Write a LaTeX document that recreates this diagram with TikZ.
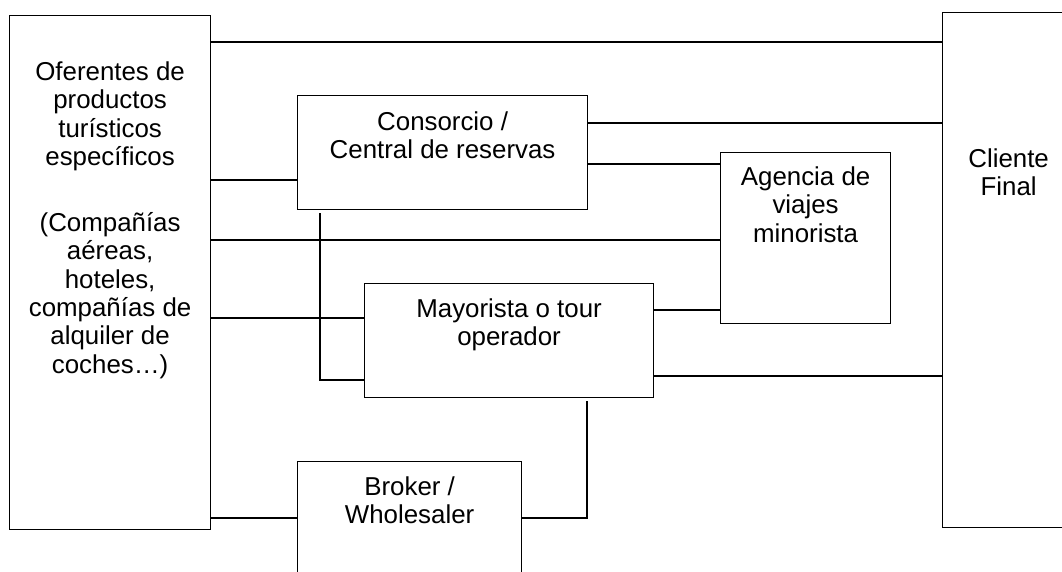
\documentclass[tikz,border=0pt]{standalone}
\usepackage{fontspec}
\setmainfont{Liberation Sans}
\usetikzlibrary{calc}
% box body: width, height, first baseline offset, text (top aligned, centred)
\newcommand{\panel}[4]{\parbox[c][#2][t]{#1}{\centering\rule{0pt}{#3}#4}}

\begin{document}
\begin{tikzpicture}[x=0.75pt,y=-0.75pt,
  box/.style={draw, line width=0.9pt, inner sep=0pt, anchor=north west,
              font=\fontsize{19.4pt}{21.2pt}\selectfont},
  link/.style={line width=0.9pt}]
\useasboundingbox (0,0) rectangle (1062,571);
\clip (0,0) rectangle (1062,571);

% actors
\node[box] (ofer) at (9,15) {\panel{150.75pt}{385.5pt}{48.75pt}{Oferentes de\\productos\\turísticos\\específicos\\[28.5pt](Compañías\\aéreas,\\hoteles,\\compañías de\\alquiler de\\coches…)}};
\node[box] (cons) at (297,95) {\panel{217.5pt}{85.5pt}{26.25pt}{Consorcio /\\Central de reservas}};
\node[box] (agen) at (720,152) {\panel{127.5pt}{128.25pt}{24.75pt}{Agencia de\\viajes\\minorista}};
\node[box] (mayo) at (364,283) {\panel{216.75pt}{85.5pt}{25.5pt}{Mayorista o tour\\operador}};
\node[box] (brok) at (297,461) {\panel{168pt}{85.5pt}{25.5pt}{Broker /\\Wholesaler}};
\node[box] (clie) at (942,12) {\panel{99pt}{386.25pt}{116.25pt}{Cliente\\Final}};

% free ends of the two dog-leg links
\coordinate (consdrop) at (320,213);
\coordinate (mayodrop) at (587,401);

% links
\draw[link] (ofer.east |- 0,42) -- (clie.west |- 0,42);
\draw[link] (ofer.east |- 0,180) -- (cons.west |- 0,180);
\draw[link] (cons.east |- 0,123) -- (clie.west |- 0,123);
\draw[link] (cons.east |- 0,164) -- (agen.west |- 0,164);
\draw[link] (consdrop) -- (320,380) -- (mayo.west |- 0,380);
\draw[link] (ofer.east |- 0,240) -- (agen.west |- 0,240);
\draw[link] (ofer.east |- 0,318) -- (mayo.west |- 0,318);
\draw[link] (mayo.east |- 0,310) -- (agen.west |- 0,310);
\draw[link] (mayo.east |- 0,376) -- (clie.west |- 0,376);
\draw[link] (ofer.east |- 0,518) -- (brok.west |- 0,518);
\draw[link] (brok.east |- 0,518) -- (587,518) -- (mayodrop);
\end{tikzpicture}
\end{document}
